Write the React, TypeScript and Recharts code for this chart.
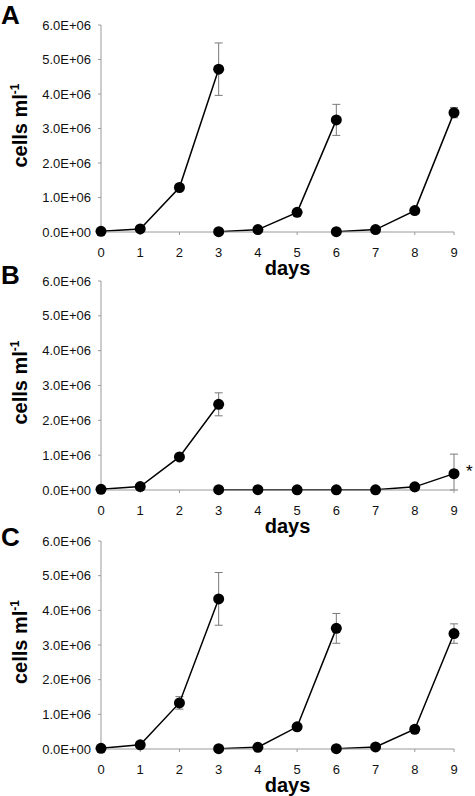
import React from 'react';
import { LineChart, Line, XAxis, YAxis, ErrorBar, ReferenceDot } from 'recharts';

const DAYS = [0, 1, 2, 3, 4, 5, 6, 7, 8, 9];
const Y_TICKS = [0, 1000000, 2000000, 3000000, 4000000, 5000000, 6000000];

// Panel A
const A1_START = 0;
const A1_VALS = [20000, 90000, 1290000, 4720000];
const A1_ERR = [null, null, null, 760000];
const A2_START = 3;
const A2_VALS = [10000, 70000, 570000, 3250000];
const A2_ERR = [null, null, null, 450000];
const A3_START = 6;
const A3_VALS = [10000, 70000, 620000, 3460000];
const A3_ERR = [null, null, null, 150000];

// Panel B
const B1_START = 0;
const B1_VALS = [20000, 100000, 950000, 2460000];
const B1_ERR = [null, null, null, 330000];
const B2_START = 3;
const B2_VALS = [10000, 10000, 5000, 5000, 5000, 90000, 470000];
const B2_ERR_LOW = [null, null, null, null, null, null, 470000];
const B2_ERR_HIGH = [null, null, null, null, null, null, 560000];

// Panel C
const C1_START = 0;
const C1_VALS = [20000, 120000, 1330000, 4330000];
const C1_ERR = [null, null, 180000, 760000];
const C2_START = 3;
const C2_VALS = [10000, 50000, 640000, 3480000];
const C2_ERR = [null, null, null, 430000];
const C3_START = 6;
const C3_VALS = [10000, 60000, 570000, 3330000];
const C3_ERR = [null, null, null, 280000];

const FONT = '"Liberation Sans", Arial, Helvetica, sans-serif';

type Pt = { day: number; v: number; err?: number | number[] };

function build(start: number, vals: number[], errs: (number | null)[]): Pt[] {
  return vals.map((v, i) => {
    const p: Pt = { day: start + i, v };
    if (errs[i] != null) p.err = errs[i] as number;
    return p;
  });
}

function buildAsym(start: number, vals: number[], lo: (number | null)[], hi: (number | null)[]): Pt[] {
  return vals.map((v, i) => {
    const p: Pt = { day: start + i, v };
    if (lo[i] != null && hi[i] != null) p.err = [lo[i] as number, hi[i] as number];
    return p;
  });
}

const fmt = (v: number) => {
  const [m, e] = v.toExponential(1).split('e');
  const sign = e[0] === '-' ? '-' : '+';
  const n = Math.abs(parseInt(e, 10));
  return `${m}E${sign}${n < 10 ? '0' + n : n}`;
};

const AXIS = '#9a9a9a';
const ERR = '#7a7a7a';
const TICK_STYLE = { fontSize: 13, fill: '#111', fontFamily: FONT };

const XLabel = (props: any) => {
  const vb = props.viewBox || {};
  return (
    <text
      x={vb.x + vb.width / 2 + 10}
      y={vb.y + 43}
      textAnchor="middle"
      fontFamily={FONT}
      fontWeight="bold"
      fontSize={20}
      fill="#000"
    >
      days
    </text>
  );
};

const YLabel = (props: any) => {
  const vb = props.viewBox || {};
  const x = (vb.x || 0) + 27;
  const y = vb.y + vb.height / 2 - 3;
  return (
    <text
      x={x}
      y={y}
      transform={`rotate(-90, ${x}, ${y})`}
      textAnchor="middle"
      fontFamily={FONT}
      fontWeight="bold"
      fontSize={20}
      fill="#000"
    >
      cells ml
      <tspan fontSize={12} dy={-8}>-1</tspan>
    </text>
  );
};

type Series = { data: Pt[] };

function Panel({ top, height, series, asterisk }: { top: number; height: number; series: Series[]; asterisk?: Pt }) {
  return (
    <div style={{ position: 'absolute', left: 0, top, width: 475, height }}>
      <LineChart width={475} height={height} margin={{ top: 25, right: 21, bottom: 0, left: 0 }} style={{ fontFamily: FONT }}>
        <XAxis
          dataKey="day"
          type="number"
          domain={[0, 9]}
          ticks={DAYS}
          allowDuplicatedCategory={false}
          height={48}
          stroke={AXIS}
          tickSize={3}
          tickMargin={13}
          fontSize={13}
          tick={TICK_STYLE}
          tickLine={{ stroke: AXIS }}
          label={<XLabel />}
        />
        <YAxis
          type="number"
          domain={[0, 6000000]}
          ticks={Y_TICKS}
          width={101}
          stroke={AXIS}
          tickSize={3}
          tickMargin={7}
          fontSize={13}
          tickFormatter={fmt}
          tick={TICK_STYLE}
          label={<YLabel />}
        />
        {series.map((s, i) => (
          <Line
            key={i}
            data={s.data}
            dataKey="v"
            stroke="#000"
            strokeWidth={1.5}
            dot={{ r: 5.5, fill: '#000', stroke: '#000', strokeWidth: 0 }}
            isAnimationActive={false}
          >
            <ErrorBar dataKey="err" direction="y" width={4} stroke={ERR} strokeWidth={1} />
          </Line>
        ))}
        {asterisk && (
          <ReferenceDot
            x={asterisk.day}
            y={asterisk.v}
            r={0}
            stroke="none"
            fill="none"
            label={{ value: '*', position: 'right', offset: 12, fontSize: 17, fill: '#000', fontFamily: FONT, dy: -3 }}
          />
        )}
      </LineChart>
    </div>
  );
}

const letterStyle: React.CSSProperties = {
  position: 'absolute',
  left: 1,
  fontFamily: FONT,
  fontWeight: 'bold',
  fontSize: 26,
  lineHeight: '26px',
  color: '#000',
};

export default function App() {
  const aSeries = [
    { data: build(A1_START, A1_VALS, A1_ERR) },
    { data: build(A2_START, A2_VALS, A2_ERR) },
    { data: build(A3_START, A3_VALS, A3_ERR) },
  ];
  const bSeries = [
    { data: build(B1_START, B1_VALS, B1_ERR) },
    { data: buildAsym(B2_START, B2_VALS, B2_ERR_LOW, B2_ERR_HIGH) },
  ];
  const cSeries = [
    { data: build(C1_START, C1_VALS, C1_ERR) },
    { data: build(C2_START, C2_VALS, C2_ERR) },
    { data: build(C3_START, C3_VALS, C3_ERR) },
  ];
  const bLast = bSeries[1].data[bSeries[1].data.length - 1];
  return (
    <div style={{ position: 'absolute', left: 0, top: 0, width: 475, height: 796, background: '#fff', overflow: 'hidden' }}>
      <Panel top={0} height={280} series={aSeries} />
      <Panel top={256} height={282} series={bSeries} asterisk={bLast} />
      <Panel top={516} height={281} series={cSeries} />
      <div style={{ ...letterStyle, top: 2 }}>A</div>
      <div style={{ ...letterStyle, top: 262 }}>B</div>
      <div style={{ ...letterStyle, top: 524 }}>C</div>
    </div>
  );
}
